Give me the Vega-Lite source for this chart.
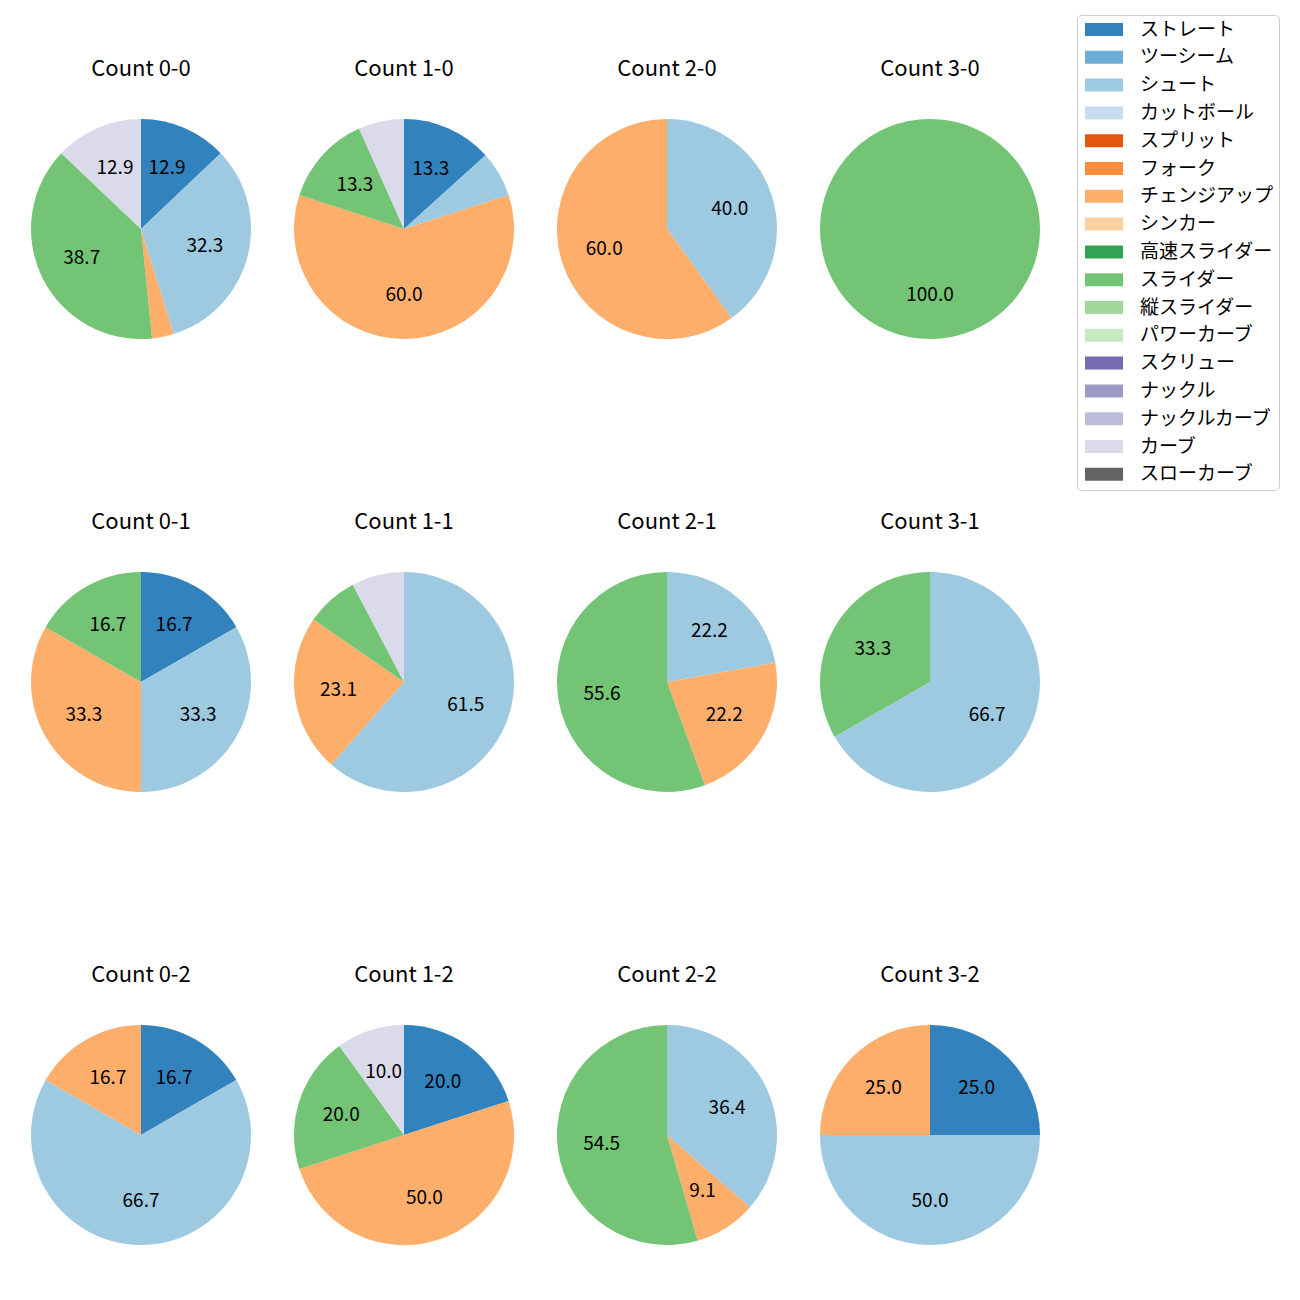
{
  "$schema": "https://vega.github.io/schema/vega-lite/v6.json",
  "padding": {"left": 31, "top": 14, "right": 5, "bottom": 5},
  "config": {
    "view": {"stroke": null},
    "font": "Noto Sans CJK JP"
  },
  "datasets": {
    "types": [
      {"pitch": "ストレート", "k": 1},
      {"pitch": "ツーシーム", "k": 2},
      {"pitch": "シュート", "k": 3},
      {"pitch": "カットボール", "k": 4},
      {"pitch": "スプリット", "k": 5},
      {"pitch": "フォーク", "k": 6},
      {"pitch": "チェンジアップ", "k": 7},
      {"pitch": "シンカー", "k": 8},
      {"pitch": "高速スライダー", "k": 9},
      {"pitch": "スライダー", "k": 10},
      {"pitch": "縦スライダー", "k": 11},
      {"pitch": "パワーカーブ", "k": 12},
      {"pitch": "スクリュー", "k": 13},
      {"pitch": "ナックル", "k": 14},
      {"pitch": "ナックルカーブ", "k": 15},
      {"pitch": "カーブ", "k": 16},
      {"pitch": "スローカーブ", "k": 17}
    ]
  },
  "data": {
    "values": [
      {"count": "Count 0-0", "pitch": "ストレート", "pct": 12.9},
      {"count": "Count 0-0", "pitch": "シュート", "pct": 32.3},
      {"count": "Count 0-0", "pitch": "チェンジアップ", "pct": 3.2},
      {"count": "Count 0-0", "pitch": "スライダー", "pct": 38.7},
      {"count": "Count 0-0", "pitch": "カーブ", "pct": 12.9},
      {"count": "Count 1-0", "pitch": "ストレート", "pct": 13.3},
      {"count": "Count 1-0", "pitch": "シュート", "pct": 6.7},
      {"count": "Count 1-0", "pitch": "チェンジアップ", "pct": 60.0},
      {"count": "Count 1-0", "pitch": "スライダー", "pct": 13.3},
      {"count": "Count 1-0", "pitch": "カーブ", "pct": 6.7},
      {"count": "Count 2-0", "pitch": "シュート", "pct": 40.0},
      {"count": "Count 2-0", "pitch": "チェンジアップ", "pct": 60.0},
      {"count": "Count 3-0", "pitch": "スライダー", "pct": 100.0},
      {"count": "Count 0-1", "pitch": "ストレート", "pct": 16.7},
      {"count": "Count 0-1", "pitch": "シュート", "pct": 33.3},
      {"count": "Count 0-1", "pitch": "チェンジアップ", "pct": 33.3},
      {"count": "Count 0-1", "pitch": "スライダー", "pct": 16.7},
      {"count": "Count 1-1", "pitch": "シュート", "pct": 61.5},
      {"count": "Count 1-1", "pitch": "チェンジアップ", "pct": 23.1},
      {"count": "Count 1-1", "pitch": "スライダー", "pct": 7.7},
      {"count": "Count 1-1", "pitch": "カーブ", "pct": 7.7},
      {"count": "Count 2-1", "pitch": "シュート", "pct": 22.2},
      {"count": "Count 2-1", "pitch": "チェンジアップ", "pct": 22.2},
      {"count": "Count 2-1", "pitch": "スライダー", "pct": 55.6},
      {"count": "Count 3-1", "pitch": "シュート", "pct": 66.7},
      {"count": "Count 3-1", "pitch": "スライダー", "pct": 33.3},
      {"count": "Count 0-2", "pitch": "ストレート", "pct": 16.7},
      {"count": "Count 0-2", "pitch": "シュート", "pct": 66.7},
      {"count": "Count 0-2", "pitch": "チェンジアップ", "pct": 16.7},
      {"count": "Count 1-2", "pitch": "ストレート", "pct": 20.0},
      {"count": "Count 1-2", "pitch": "チェンジアップ", "pct": 50.0},
      {"count": "Count 1-2", "pitch": "スライダー", "pct": 20.0},
      {"count": "Count 1-2", "pitch": "カーブ", "pct": 10.0},
      {"count": "Count 2-2", "pitch": "シュート", "pct": 36.4},
      {"count": "Count 2-2", "pitch": "チェンジアップ", "pct": 9.1},
      {"count": "Count 2-2", "pitch": "スライダー", "pct": 54.5},
      {"count": "Count 3-2", "pitch": "ストレート", "pct": 25.0},
      {"count": "Count 3-2", "pitch": "シュート", "pct": 50.0},
      {"count": "Count 3-2", "pitch": "チェンジアップ", "pct": 25.0}
    ]
  },
  "transform": [
    {"lookup": "pitch", "from": {"data": {"name": "types"}, "key": "pitch", "fields": ["k"]}}
  ],
  "facet": {
    "field": "count",
    "type": "nominal",
    "sort": ["Count 0-0", "Count 1-0", "Count 2-0", "Count 3-0", "Count 0-1", "Count 1-1", "Count 2-1", "Count 3-1", "Count 0-2", "Count 1-2", "Count 2-2", "Count 3-2"],
    "header": {
      "title": null,
      "labelFontSize": 22,
      "labelColor": "#000000",
      "labelFont": "Noto Sans CJK JP",
      "labelPadding": 38
    }
  },
  "columns": 4,
  "spacing": {"column": 43, "row": 172},
  "spec": {
    "width": 220,
    "height": 220,
    "encoding": {
      "theta": {"field": "pct", "type": "quantitative", "stack": true},
      "order": {"field": "k", "type": "quantitative"}
    },
    "layer": [
      {
        "mark": {"type": "arc", "outerRadius": 110, "stroke": null},
        "encoding": {
          "color": {
            "field": "pitch",
            "type": "nominal",
            "scale": {
              "domain": ["ストレート", "ツーシーム", "シュート", "カットボール", "スプリット", "フォーク", "チェンジアップ", "シンカー", "高速スライダー", "スライダー", "縦スライダー", "パワーカーブ", "スクリュー", "ナックル", "ナックルカーブ", "カーブ", "スローカーブ"],
              "range": ["#3182bd", "#6baed6", "#9ecae1", "#c6dbef", "#e6550d", "#fd8d3c", "#fdae6b", "#fdd0a2", "#31a354", "#74c476", "#a1d99b", "#c7e9c0", "#756bb1", "#9e9ac8", "#bcbddc", "#dadaeb", "#636363"]
            },
            "legend": {
              "title": null,
              "orient": "none",
              "legendX": 1046,
              "legendY": -104,
              "symbolType": "M-1,-1H4.85V1H-1Z",
              "symbolSize": 169,
              "symbolStrokeWidth": 0,
              "labelFontSize": 19,
              "labelFont": "Noto Sans CJK JP",
              "labelColor": "#000000",
              "labelOffset": 39,
              "rowPadding": 7.8,
              "padding": 5,
              "strokeColor": "#cccccc",
              "fillColor": "#ffffff",
              "cornerRadius": 4,
              "labelLimit": 300
            }
          }
        }
      },
      {
        "mark": {"type": "text", "radius": 66, "fontSize": 19, "font": "Noto Sans CJK JP", "color": "#000000", "align": "center", "baseline": "middle"},
        "encoding": {
          "text": {
            "condition": {"test": "datum.pct >= 8", "field": "pct", "type": "quantitative", "format": ".1f"},
            "value": ""
          }
        }
      }
    ]
  }
}
